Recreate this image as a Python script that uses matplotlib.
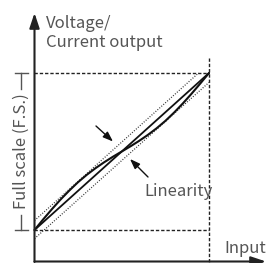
"""Linearity diagram: output vs. input with full-scale band."""

import matplotlib.pyplot as plt

W, H = 266, 263
DPI = 100

# straight reference line (ideal characteristic), normalised 0..1
ideal_x = [0.0, 1.0]
ideal_y = [0.0, 1.0]

curve_x = [0.0, 0.05, 0.10, 0.15, 0.20, 0.25, 0.30, 0.35, 0.40, 0.45, 0.50,
           0.55, 0.60, 0.65, 0.70, 0.75, 0.80, 0.85, 0.90, 0.95, 1.0]
curve_y = [0.0, 0.068, 0.133, 0.195, 0.252, 0.305, 0.352, 0.394, 0.432, 0.467, 0.50,
           0.533, 0.568, 0.606, 0.648, 0.695, 0.748, 0.806, 0.868, 0.933, 1.0]

# tolerance band (dotted)
upper_x = [0.0, 0.94]
upper_y = [0.06, 1.0]
lower_x = [0.0, 1.0]
lower_y = [-0.055, 0.94]

labels = {
    "yaxis": "Voltage/\nCurrent output",
    "xaxis": "Input",
    "fs": "Full scale (F.S.)",
    "lin": "Linearity",
}

# pixel frame: data (0,0) -> (34, 230), data (1,1) -> (209, 73)
X0, X1 = 34.5, 209.0
Y0, Y1 = 230.0, 73.0


def px(x):
    return (x - X0) / (X1 - X0)


def py(y):
    return (Y0 - y) / (Y0 - Y1)


FONT = ["Noto Sans CJK JP", "DejaVu Sans"]
TXT = "#555555"
FS = 12

fig = plt.figure(figsize=(W / DPI, H / DPI), dpi=DPI)
ax = fig.add_axes([0, 0, 1, 1])
ax.set_xlim(px(0), px(W))
ax.set_ylim(py(H), py(0))
ax.axis("off")

# frame dashes
dash = dict(color="#222222", lw=1.0, dashes=(2.4, 1.4))
ax.plot([0, 1], [1, 1], **dash)
ax.plot([0, 1], [0, 0], **dash)
ax.plot([1, 1], [py(58), py(262)], **dash)

# tolerance band
dot = dict(color="#333333", lw=0.9, dashes=(0.8, 1.3))
ax.plot(upper_x, upper_y, **dot)
ax.plot(lower_x, lower_y, **dot)

# ideal and actual characteristic
ax.plot(ideal_x, ideal_y, color="#111111", lw=1.3, solid_capstyle="round")
ax.plot(curve_x, curve_y, color="#111111", lw=1.5, solid_capstyle="round")

# axes with arrows
axis_arrow = dict(arrowstyle="-|>,head_length=0.9,head_width=0.3",
                  color="#222222", lw=1.5, shrinkA=0, shrinkB=0, mutation_scale=10)
ax.annotate("", xy=(0, py(13)), xytext=(0, py(262)), arrowprops=axis_arrow)
ax.annotate("", xy=(px(266), py(261.5)), xytext=(0, py(261.5)), arrowprops=axis_arrow)

# pointer arrows
ptr = dict(arrowstyle="-|>,head_length=0.6,head_width=0.22",
           color="#111111", lw=1.0, shrinkA=0, shrinkB=0, mutation_scale=10)
ax.annotate("", xy=(px(113), py(141.5)), xytext=(px(96), py(126)), arrowprops=ptr)
ax.annotate("", xy=(px(130), py(159)), xytext=(px(148), py(177)), arrowprops=ptr)

# full-scale bracket
br = dict(color="#555555", lw=1.0)
ax.plot([px(21.5), px(21.5)], [1, py(89)], **br)
ax.plot([px(21.5), px(21.5)], [py(215), 0], **br)
ax.plot([px(15), px(28)], [1, 1], **br)
ax.plot([px(15), px(28)], [0, 0], **br)

ax.text(px(21.5), 0.5, labels["fs"], rotation=90, ha="center", va="center",
        color=TXT, fontsize=FS, family=FONT)
ax.text(px(46), py(15), labels["yaxis"], ha="left", va="top", color=TXT,
        fontsize=FS, family=FONT, linespacing=1.15)
ax.text(px(144), py(196), labels["lin"], ha="left", va="baseline", color=TXT,
        fontsize=FS, family=FONT)
ax.text(px(224), py(253), labels["xaxis"], ha="left", va="baseline", color=TXT,
        fontsize=FS, family=FONT)

fig.savefig("out.png", dpi=DPI)
